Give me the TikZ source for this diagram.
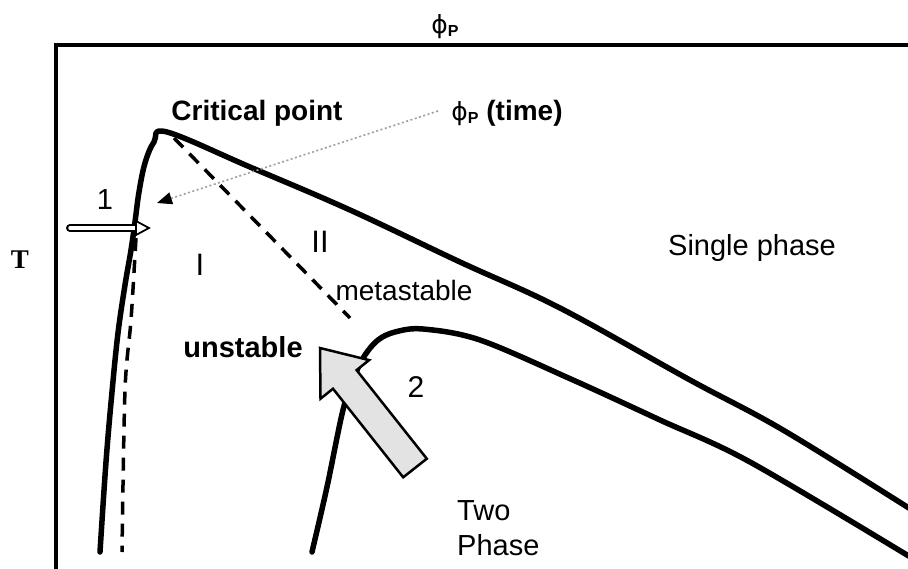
\documentclass[tikz,border=0pt]{standalone}
\usepackage{fontspec}
\setmainfont{Liberation Sans}
\newfontfamily\dejavu{DejaVu Sans}
\newfontfamily\serifT{Liberation Serif}
\usetikzlibrary{arrows.meta}
\begin{document}
\begin{tikzpicture}[x=1pt,y=-1pt,
  curve/.style={line width=5.5pt, line cap=round, line join=round},
  spinodal/.style={line width=3.5pt, dash pattern=on 13pt off 9pt},
  frameline/.style={line width=3.5pt, line join=miter},
  lbl/.style={inner sep=0pt, anchor=base, font=\fontsize{29}{34}\selectfont},
  blbl/.style={inner sep=0pt, anchor=base, font=\fontsize{28}{34}\selectfont\bfseries},
  bigarrow/.style={fill=gray!22, draw=black, line width=2.5pt, line join=miter},
  timearrow/.style={draw=gray!75, line width=1.6pt, dash pattern=on 2pt off 2.5pt,
     -{Triangle[length=15pt,width=12pt,black]}}]
\useasboundingbox (0,0) rectangle (908,568);
\clip (0,0) rectangle (908,568);

% frame (axes)
\coordinate (corner) at (56,45);
\coordinate (topR) at (912,45);
\coordinate (botL) at (56,572);
\draw[frameline] (botL) -- (corner) -- (topR);

% binodal with critical point
\draw[curve] plot[smooth, tension=0.6] coordinates {
 (100,552) (106,462) (112,392) (118,333) (125,285) (131,250) (135,222)
 (139,192) (145,163) (154,142) (167,132) (250,167) (350,210)
 (460,262) (560,308) (690,380) (783,430) (912,510)};

% left spinodal
\draw[spinodal] plot[smooth] coordinates {(136,238) (131,320) (125,390) (122,552)};
% spinodal from critical point
\coordinate (cp) at (174,138);
\coordinate (spend) at (350,318);
\draw[spinodal] (cp) -- (spend);

% lower (second) curve
\draw[curve] plot[smooth, tension=0.55] coordinates {
 (312,552) (327,487) (343,410) (355,375) (365,355) (378,340) (395,332)
 (423,329) (480,340) (573,380) (660,420) (750,462) (912,558)};

% arrow 1 (open bar arrow)
\coordinate (a1s) at (70,228);
\coordinate (a1e) at (138,228);
\draw[line width=8pt, line cap=round] (a1s) -- (a1e);
\draw[white, line width=3.5pt, line cap=round] (a1s) -- (a1e);
\draw[fill=white, line width=1.8pt, line join=miter] (136,221) -- (149,228) -- (136,235) -- cycle;

% dotted time arrow
\coordinate (ts) at (438,111);
\coordinate (te) at (157,203);
\draw[timearrow] (ts) -- (te);

% big arrow 2
\draw[bigarrow] (320,348) -- (369.1,360.1) -- (356.6,370.1) -- (426.8,458.7)
  -- (403.2,477.3) -- (333.0,388.7) -- (320.5,398.7) -- cycle;

% labels
\node (phitop) [inner sep=0pt, anchor=base] at (445,33)
  {{\dejavu\fontsize{25}{25}\selectfont ϕ}\raisebox{-3pt}{\fontsize{16}{16}\selectfont\bfseries P}};
\node (Tlab) [inner sep=0pt, anchor=base] at (20,268) {\serifT\fontsize{27}{27}\selectfont\bfseries T};
\node (crit) [blbl] at (257,120) {Critical point};
\node (phitime) [inner sep=0pt, anchor=base] at (507,120)
  {{\dejavu\fontsize{25}{25}\selectfont ϕ}\raisebox{-3pt}{\fontsize{16}{16}\selectfont\bfseries P}\fontsize{28}{34}\selectfont\bfseries\ (time)};
\node (one) [lbl] at (105,209) {1};
\node (regI) [lbl, font=\fontsize{31}{34}\selectfont] at (200,275) {I};
\node (regII) [lbl, font=\fontsize{31}{34}\selectfont] at (320,252) {II};
\node (meta) [lbl, font=\fontsize{28}{34}\selectfont] at (404,300) {metastable};
\node (single) [lbl] at (752,255) {Single phase};
\node (unst) [blbl, font=\fontsize{29}{34}\selectfont\bfseries] at (243,357) {unstable};
\node (two) [lbl, font=\fontsize{30}{34}\selectfont] at (416,397) {2};
\node (twoA) [lbl, anchor=base west] at (457,520) {Two};
\node (twoB) [lbl, anchor=base west] at (457,555) {Phase};
\end{tikzpicture}
\end{document}
